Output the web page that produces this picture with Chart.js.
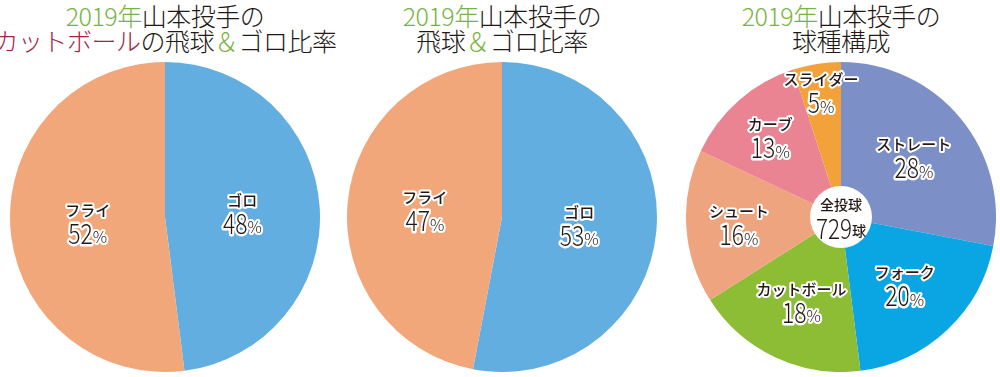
<!DOCTYPE html>
<html>
<head>
<meta charset="utf-8">
<script src="https://cdn.jsdelivr.net/npm/chart.js@4"></script>
<style>
  body { margin: 0; background: #fff; width: 1000px; height: 377px; overflow: hidden; position: relative; font-family: 'Noto Sans CJK JP', sans-serif; }
  .title { position: absolute; top: 3px; width: 360px; text-align: center; font-size: 25px; line-height: 25px; color: #231815; letter-spacing: -0.5px; font-weight: 300; }
  .green { color: #7ab342; }
  .red { color: #a3243f; }
  canvas { position: absolute; top: 62px; }
</style>
</head>
<body>
<div class="title" style="left: -15px;"><span class="green">2019年</span>山本投手の<br><span class="red">カットボール</span>の飛球<span class="green">＆</span>ゴロ比率</div>
<div class="title" style="left: 322px;"><span class="green">2019年</span>山本投手の<br>飛球<span class="green">＆</span>ゴロ比率</div>
<div class="title" style="left: 661px;"><span class="green">2019年</span>山本投手の<br>球種構成</div>
<canvas id="pie1" width="310" height="310" style="left: 10px;"></canvas>
<canvas id="pie2" width="310" height="310" style="left: 347px;"></canvas>
<canvas id="pie3" width="310" height="310" style="left: 686px;"></canvas>
<script>
const cutLabels = ['ゴロ', 'フライ'];
const cutValues = [48, 52];
const allLabels = ['ゴロ', 'フライ'];
const allValues = [53, 47];
const pitchLabels = ['ストレート', 'フォーク', 'カットボール', 'シュート', 'カーブ', 'スライダー'];
const pitchValues = [28, 20, 18, 16, 13, 5];
const totalPitches = 729;

const flyGroundColors = ['#62aee1', '#f2a77b'];
const pitchColors = ['#7d8fc7', '#0aa5e3', '#8dbd35', '#eda47f', '#ea8492', '#f3a23b'];

const numFont = '300 28px "Noto Sans CJK JP"';
const nameFont = '500 15px "Noto Sans CJK JP"';

function outlined(ctx, text, x, y) {
    ctx.strokeText(text, x, y);
    ctx.fillText(text, x, y);
}

// writes name + percent on each slice, and optional text in the middle
const sliceLabels = {
    id: 'sliceLabels',
    afterDatasetsDraw(chart, args, opts) {
        const ctx = chart.ctx;
        const meta = chart.getDatasetMeta(0);
        const values = chart.data.datasets[0].data;
        ctx.save();
        ctx.lineJoin = 'round';
        ctx.strokeStyle = '#fff';
        ctx.fillStyle = '#231815';
        ctx.textBaseline = 'middle';
        meta.data.forEach((arc, i) => {
            const p = arc.getProps(['x', 'y', 'startAngle', 'endAngle', 'outerRadius']);
            const mid = (p.startAngle + p.endAngle) / 2;
            const r = p.outerRadius * (opts.radii ? opts.radii[i] : 0.5);
            const x = p.x + Math.cos(mid) * r;
            const y = p.y + Math.sin(mid) * r;

            ctx.lineWidth = 4;
            ctx.textAlign = 'center';
            ctx.font = nameFont;
            outlined(ctx, chart.data.labels[i], x, y - 12);

            const num = String(values[i]);
            ctx.font = numFont;
            const wn = ctx.measureText(num).width * 0.82;
            ctx.font = '300 16px "Noto Sans CJK JP"';
            const wp = ctx.measureText('%').width;
            const left = x - (wn + wp) / 2;
            ctx.textAlign = 'left';
            ctx.lineWidth = 5;
            ctx.save();
            ctx.translate(left, y + 11);
            ctx.scale(0.82, 1);
            ctx.font = numFont;
            outlined(ctx, num, 0, 0);
            ctx.restore();
            ctx.lineWidth = 4;
            ctx.font = '300 16px "Noto Sans CJK JP"';
            outlined(ctx, '%', left + wn, y + 15);
        });
        if (opts.center) {
            const c = meta.data[0];
            ctx.fillStyle = '#fff';
            ctx.beginPath();
            ctx.arc(c.x, c.y, 31, 0, Math.PI * 2);
            ctx.fill();
            ctx.fillStyle = '#231815';
            ctx.textAlign = 'center';
            ctx.font = '500 14px "Noto Sans CJK JP"';
            ctx.fillText('全投球', c.x, c.y - 12);
            ctx.font = numFont;
            const wn = ctx.measureText(opts.center).width * 0.8;
            ctx.font = '500 14px "Noto Sans CJK JP"';
            const wk = ctx.measureText('球').width;
            const left = c.x - (wn + wk) / 2;
            ctx.textAlign = 'left';
            ctx.save();
            ctx.translate(left, c.y + 11);
            ctx.scale(0.8, 1);
            ctx.font = numFont;
            ctx.fillText(opts.center, 0, 0);
            ctx.restore();
            ctx.font = '500 14px "Noto Sans CJK JP"';
            ctx.fillText('球', left + wn, c.y + 14);
        }
        ctx.restore();
    }
};

function makePie(id, labels, values, colors, labelOpts) {
    return new Chart(document.getElementById(id), {
        type: 'pie',
        data: {
            labels: labels,
            datasets: [{
                data: values,
                backgroundColor: colors,
                borderWidth: 0
            }]
        },
        options: {
            responsive: false,
            animation: false,
            layout: { padding: 0 },
            plugins: {
                legend: { display: false },
                tooltip: { enabled: false },
                sliceLabels: labelOpts
            }
        },
        plugins: [sliceLabels]
    });
}

makePie('pie1', cutLabels, cutValues, flyGroundColors, {});
makePie('pie2', allLabels, allValues, flyGroundColors, {});
makePie('pie3', pitchLabels, pitchValues, pitchColors, {
    radii: [0.61, 0.6, 0.6, 0.66, 0.69, 0.82],
    center: String(totalPitches)
});
</script>
</body>
</html>
